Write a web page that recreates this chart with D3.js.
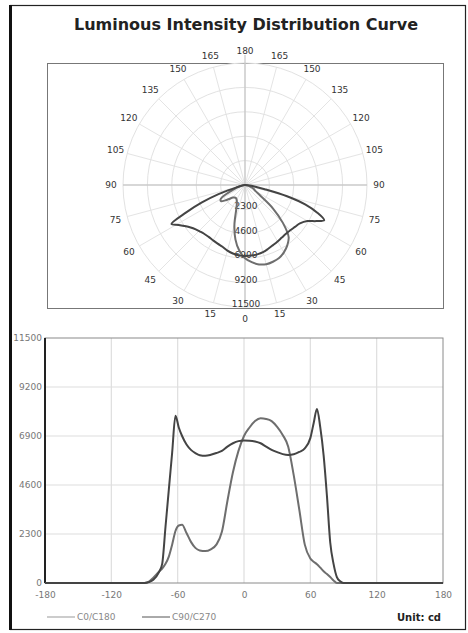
<!DOCTYPE html>
<html><head><meta charset="utf-8">
<script src="https://cdn.jsdelivr.net/npm/d3@7"></script>
<style>
body{margin:0;background:#fff}
svg{display:block}
text{font-family:"DejaVu Sans",Arial,sans-serif}
</style>
</head><body>
<svg id="c" width="468" height="633"></svg>
<script>
// ---- data ----
const angles   = [-180,-150,-120,-95,-90,-86,-82,-77,-74,-71,-68,-65,-62,-59,-56,-52,-48,-44,-40,-35,-30,-25,-20,-15,-10,-5,0,5,10,15,20,25,30,35,40,45,50,55,60,63,66,69,72,75,78,81,84,87,90,95,120,150,180];
const c0c180   = [0,0,0,0,0,60,250,530,680,900,1240,1800,2440,2700,2730,2350,1930,1650,1530,1500,1580,1800,2400,3850,5200,6200,6900,7300,7600,7730,7700,7600,7330,6950,6400,5050,3450,1800,1150,1000,880,720,550,420,280,120,0,0,0,0,0,0,0];
const c90c270  = [0,0,0,0,0,40,150,500,900,2640,4380,6110,7850,7300,6900,6500,6250,6100,6000,5975,6020,6100,6200,6400,6560,6660,6690,6680,6640,6560,6400,6250,6140,6050,6010,6040,6150,6320,6800,7500,8170,7300,6000,4100,1900,900,280,80,0,0,0,0,0];
const seriesNames = ["C0/C180","C90/C270"];
const yTicks = [0,2300,4600,6900,9200,11500];
const xTicks = [-180,-120,-60,0,60,120,180];
const polarAngles = [0,15,30,45,60,75,90,105,120,135,150,165,180];
const titleText = "Luminous Intensity Distribution Curve";
const unitText = "Unit: cd";

const colors = ["#6e6e6e","#444"];
const series = [c0c180, c90c270].map((vals,i)=>({name:seriesNames[i], color:colors[i], pts:angles.map((a,j)=>({a, v:vals[j]}))}));

const svg = d3.select("#c");

// outer frame
svg.append("rect").attr("x",10.5).attr("y",5.5).attr("width",455).attr("height",624)
  .attr("fill","none").attr("stroke","#222").attr("stroke-width",1.2);
svg.append("line").attr("x1",10.5).attr("x2",10.5).attr("y1",5).attr("y2",630)
  .attr("stroke","#111").attr("stroke-width",3);

// title
svg.append("text").attr("x",246).attr("y",30).attr("text-anchor","middle")
  .attr("font-size",16).attr("font-weight","bold").attr("fill","#222").text(titleText);

// ---- polar chart ----
const cx=245, cy=185, R=122;
const rScale = d3.scaleLinear().domain([0,11500]).range([0,R]);
const pg = svg.append("g");
pg.append("rect").attr("x",47.5).attr("y",63.5).attr("width",396).attr("height",245)
  .attr("fill","none").attr("stroke","#777").attr("stroke-width",1);

const gp = pg.append("g").attr("transform",`translate(${cx},${cy})`);
// spokes
d3.range(-165,181,15).forEach(a=>{
  const t=a*Math.PI/180;
  gp.append("line").attr("x1",0).attr("y1",0)
    .attr("x2",R*Math.sin(t)).attr("y2",R*Math.cos(t))
    .attr("stroke","#e4e4e4").attr("stroke-width",1);
});
// circles
yTicks.slice(1).forEach(v=>{
  gp.append("circle").attr("r",rScale(v)).attr("fill","none").attr("stroke","#e2e2e2").attr("stroke-width",1);
});
// main axes
gp.append("line").attr("x1",-R).attr("x2",R).attr("y1",0).attr("y2",0).attr("stroke","#bdbdbd");
gp.append("line").attr("x1",0).attr("x2",0).attr("y1",-R-8).attr("y2",R).attr("stroke","#bdbdbd");

// radial labels
yTicks.slice(1).forEach(v=>{
  gp.append("text").attr("x",1).attr("y",rScale(v)).attr("text-anchor","middle")
    .attr("font-size",9).attr("fill","#333").text(v);
});
// angle labels
const RL = 134;
polarAngles.forEach(a=>{
  const t=a*Math.PI/180;
  const sides = (a===0||a===180)?[0]:[-1,1];
  sides.forEach(s=>{
    gp.append("text").attr("x",s*RL*Math.sin(t)).attr("y",RL*Math.cos(t))
      .attr("text-anchor","middle").attr("dominant-baseline","central")
      .attr("font-size",9).attr("fill","#333").text(a);
  });
});
// curves
const radial = d3.lineRadial()
  .angle(d=>Math.PI - d.a*Math.PI/180)
  .radius(d=>rScale(d.v))
  .curve(d3.curveCatmullRom.alpha(0.5));
series.forEach(s=>{
  gp.append("path").attr("d",radial(s.pts)).attr("fill","none")
    .attr("stroke",s.color).attr("stroke-width",2);
});

// ---- cartesian chart ----
const x = d3.scaleLinear().domain([-180,180]).range([45,443]);
const y = d3.scaleLinear().domain([0,11500]).range([583,338]);
const cg = svg.append("g");
// grid
xTicks.slice(1,-1).forEach(t=>{
  cg.append("line").attr("x1",x(t)).attr("x2",x(t)).attr("y1",y(11500)).attr("y2",y(0))
    .attr("stroke","#dedede").attr("stroke-width",1.2);
});
yTicks.slice(1,-1).forEach(t=>{
  cg.append("line").attr("x1",x(-180)).attr("x2",x(180)).attr("y1",y(t)).attr("y2",y(t))
    .attr("stroke","#dedede").attr("stroke-width",1.2);
});
// border
cg.append("rect").attr("x",x(-180)).attr("y",y(11500)).attr("width",x(180)-x(-180)).attr("height",y(0)-y(11500))
  .attr("fill","none").attr("stroke","#8a8a8a").attr("stroke-width",1);
cg.append("line").attr("x1",x(-180)).attr("x2",x(-180)).attr("y1",y(11500)).attr("y2",y(0))
  .attr("stroke","#222").attr("stroke-width",2);

// axes (labels only)
const fmt = d=>String(d);
const xAxis = d3.axisBottom(x).tickValues(xTicks).tickFormat(fmt).tickSize(0).tickPadding(9);
const xa = cg.append("g").attr("transform",`translate(0,${y(0)})`).call(xAxis);
xa.select(".domain").remove();
xa.selectAll("text").attr("font-size",9).attr("fill","#777").attr("font-family","DejaVu Sans, sans-serif");
const yAxis = d3.axisLeft(y).tickValues(yTicks).tickFormat(fmt).tickSize(0).tickPadding(3);
const ya = cg.append("g").attr("transform",`translate(${x(-180)},0)`).call(yAxis);
ya.select(".domain").remove();
ya.selectAll("text").attr("font-size",9).attr("fill","#777").attr("font-family","DejaVu Sans, sans-serif");

// lines
const line = d3.line().x(d=>x(d.a)).y(d=>y(d.v)).curve(d3.curveMonotoneX);
series.forEach(s=>{
  cg.append("path").attr("d",line(s.pts)).attr("fill","none")
    .attr("stroke",s.color).attr("stroke-width",2);
});

// legend
const legX = [47,142];
series.forEach((s,i)=>{
  cg.append("line").attr("x1",legX[i]).attr("x2",legX[i]+28).attr("y1",617).attr("y2",617)
    .attr("stroke",i===0?"#999":"#555").attr("stroke-width",1);
  cg.append("text").attr("x",legX[i]+30).attr("y",620).attr("font-size",9).attr("fill","#888").text(s.name);
});
svg.append("text").attr("x",441).attr("y",621).attr("text-anchor","end")
  .attr("font-size",10).attr("font-weight","bold").attr("fill","#222").text(unitText);
</script>
</body></html>
